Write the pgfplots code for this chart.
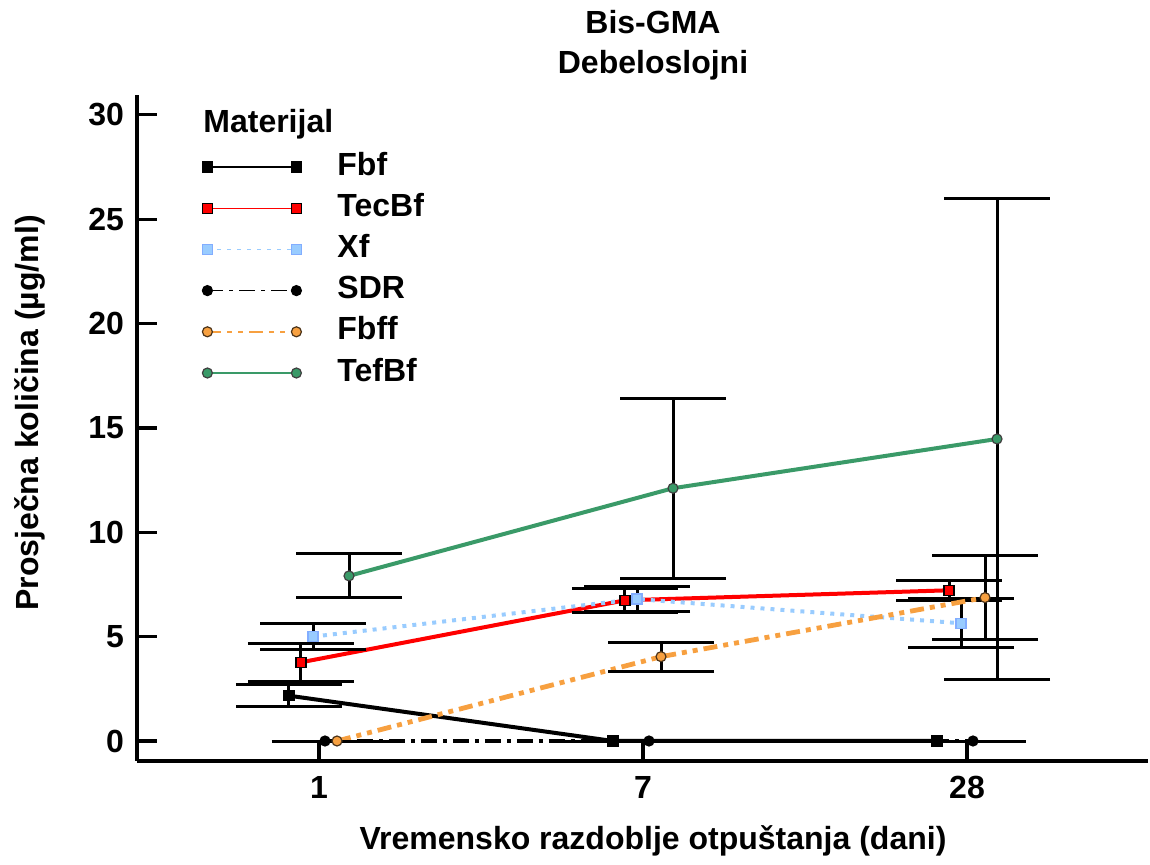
\documentclass[border=0pt]{standalone}
\usepackage{fontspec}
\setmainfont{Liberation Sans}
\usepackage{pgfplots}
\pgfplotsset{compat=1.18}
\definecolor{xfblue}{HTML}{99CCFF}
\definecolor{fbforange}{HTML}{F7A040}
\definecolor{tefgreen}{HTML}{3A9A68}
\pgfplotsset{
  myerr/.style={error bars/.cd, y dir=both, y explicit,
    error mark=|,
    error bar style={black, line width=1.5pt, solid},
    error mark options={black, mark size=26.5pt, line width=1.5pt, solid}},
}
\begin{document}
\begin{tikzpicture}
\useasboundingbox (-68.5pt,-52pt) rectangle (506.5pt,380.5pt);
\begin{axis}[
  at={(0pt,0pt)}, anchor=south west,
  scale only axis, width=505.5pt, height=333pt,
  xmin=-0.5617, xmax=2.5586, ymin=-0.958, ymax=30.95,
  axis x line*=bottom, axis y line*=left,
  axis line style={line width=1.6pt},
  xtick={0,1,2}, xticklabels={1,7,28},
  ytick={0,5,...,30},
  tick align=inside,
  major tick length=10pt,
  tick style={line width=1.6pt, black},
  font=\fontsize{16}{19}\selectfont\bfseries,
  ticklabel style={font=\fontsize{16}{19}\selectfont\bfseries},
  /pgf/number format/assume math mode=true,
  yticklabel style={xshift=-3pt},
  xticklabel style={yshift=-4pt},
  xlabel={Vremensko razdoblje otpuštanja (dani)},
  xlabel style={at={(axis description cs:0.5104,0)}, anchor=center, yshift=-40pt},
  ylabel={Prosječna količina (µg/ml)},
  ylabel style={at={(axis description cs:-0.1058,0.5225)}, anchor=center},
  legend style={at={(axis description cs:0.0643,0.915)}, anchor=north west,
    draw=none, fill=none, inner xsep=0pt, inner ysep=0pt,
    row sep=5.6pt, column sep=18pt,
    font=\fontsize{16}{19}\selectfont\bfseries,
    nodes={inner sep=0pt, text height=11.5pt, text depth=3.5pt}},
  legend cell align=left,
  legend image code/.code={\draw[#1, line width=0.7pt] plot coordinates {(0pt,0pt) (44.5pt,0pt)};},
]
% Fbf
\addplot[black, line width=2pt, mark=square*, mark size=2.5pt,
  mark options={solid, fill=black, draw=black, line width=0.6pt}, myerr]
  table[x=x, y=y, y error=e] {
x y e
-0.0926 2.17 0.52
0.9074 0 0
1.9074 0 0
};
\addlegendentry{Fbf}
% TecBf
\addplot[red, line width=2pt, mark=square*, mark size=2.5pt,
  mark options={solid, fill=red, draw=black, line width=0.6pt}, myerr]
  table[x=x, y=y, y error=e] {
x y e
-0.0556 3.77 0.90
0.9444 6.74 0.56
1.9444 7.22 0.47
};
\addlegendentry{TecBf}
% Xf
\addplot[xfblue, line width=2pt, dash pattern=on 2pt off 3pt, mark=square*, mark size=2.5pt,
  mark options={solid, fill=xfblue, draw=xfblue!85!blue, line width=0.6pt}, myerr]
  table[x=x, y=y, y error=e] {
x y e
-0.0185 5.00 0.64
0.9815 6.80 0.59
1.9815 5.64 1.17
};
\addlegendentry{Xf}
% SDR
\addplot[black, line width=2pt, dash pattern=on 8pt off 3pt on 2pt off 3pt, mark=*, mark size=2.5pt,
  mark options={solid, fill=black, draw=black, line width=0.6pt}, myerr]
  table[x=x, y=y, y error=e] {
x y e
0.0185 0 0
1.0185 0 0
2.0185 0 0
};
\addlegendentry{SDR}
% Fbff
\addplot[fbforange, line width=2.4pt, dash pattern=on 7pt off 3pt on 2.5pt off 3pt on 2.5pt off 3pt, mark=*, mark size=2.5pt,
  mark options={solid, fill=fbforange, draw=black!60!brown, line width=0.6pt}, myerr]
  table[x=x, y=y, y error=e] {
x y e
0.0556 0 0
1.0556 4.04 0.70
2.0556 6.87 2.03
};
\addlegendentry{Fbff}
% TefBf
\addplot[tefgreen, line width=2pt, mark=*, mark size=2.5pt,
  mark options={solid, fill=tefgreen, draw=black!75, line width=0.6pt}, myerr]
  table[x=x, y=y, y error=e] {
x y e
0.0926 7.91 1.05
1.0926 12.11 4.32
2.0926 14.47 11.5
};
\addlegendentry{TefBf}
\end{axis}
\node[anchor=base west, inner sep=0pt, font=\fontsize{16}{19}\selectfont\bfseries] at (33pt,314pt) {Materijal};
\node[anchor=base, inner sep=0pt, font=\fontsize{16}{19}\selectfont\bfseries] at (258pt,363.75pt) {Bis-GMA};
\node[anchor=base, inner sep=0pt, font=\fontsize{16}{19}\selectfont\bfseries] at (258pt,343.75pt) {Debeloslojni};
\end{tikzpicture}
\end{document}
